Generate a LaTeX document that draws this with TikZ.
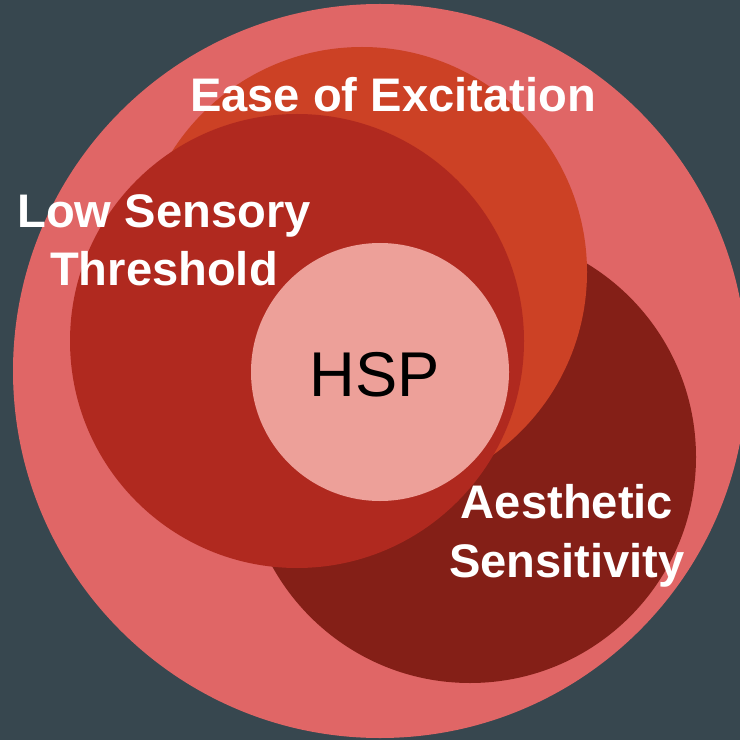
\documentclass[tikz,border=0pt]{standalone}
\usepackage{fontspec}
\setmainfont{Liberation Sans}
\usepackage{tikz}
\definecolor{slate}{HTML}{37474F}
\definecolor{lightred}{HTML}{E06666}
\definecolor{berry}{HTML}{CC4125}
\definecolor{midred}{HTML}{B0291F}
\definecolor{darkred}{HTML}{841F17}
\definecolor{pinkred}{HTML}{EDA099}

\begin{document}
\begin{tikzpicture}[x=0.025cm,y=-0.025cm]
\tikzstyle{label} = [text=white, font=\bfseries\fontsize{33.5}{41.8}\selectfont, align=center, anchor=base, inner sep=0pt]
\useasboundingbox (0,0) rectangle (740,740);
\clip (0,0) rectangle (740,740);
\fill[slate] (0,0) rectangle (740,740);
\fill[lightred] (380,371) circle (367);%outer ring
\fill[darkred] (470,457) circle (226);
\fill[berry] (362,272) circle (225);
\fill[midred] (297,341) circle (227);
\fill[pinkred] (380,372) circle (129);
\node[label] (ease) at (393,112) {Ease of Excitation};
\node[label] (low) at (164,286) {Low Sensory\\Threshold};
\node[label] (aesthetic) at (567,577) {Aesthetic\\Sensitivity};
\node[anchor=base, inner sep=0pt, font=\fontsize{45}{54}\selectfont] (hsp) at (375,396) {HSP};
\end{tikzpicture}
\end{document}
